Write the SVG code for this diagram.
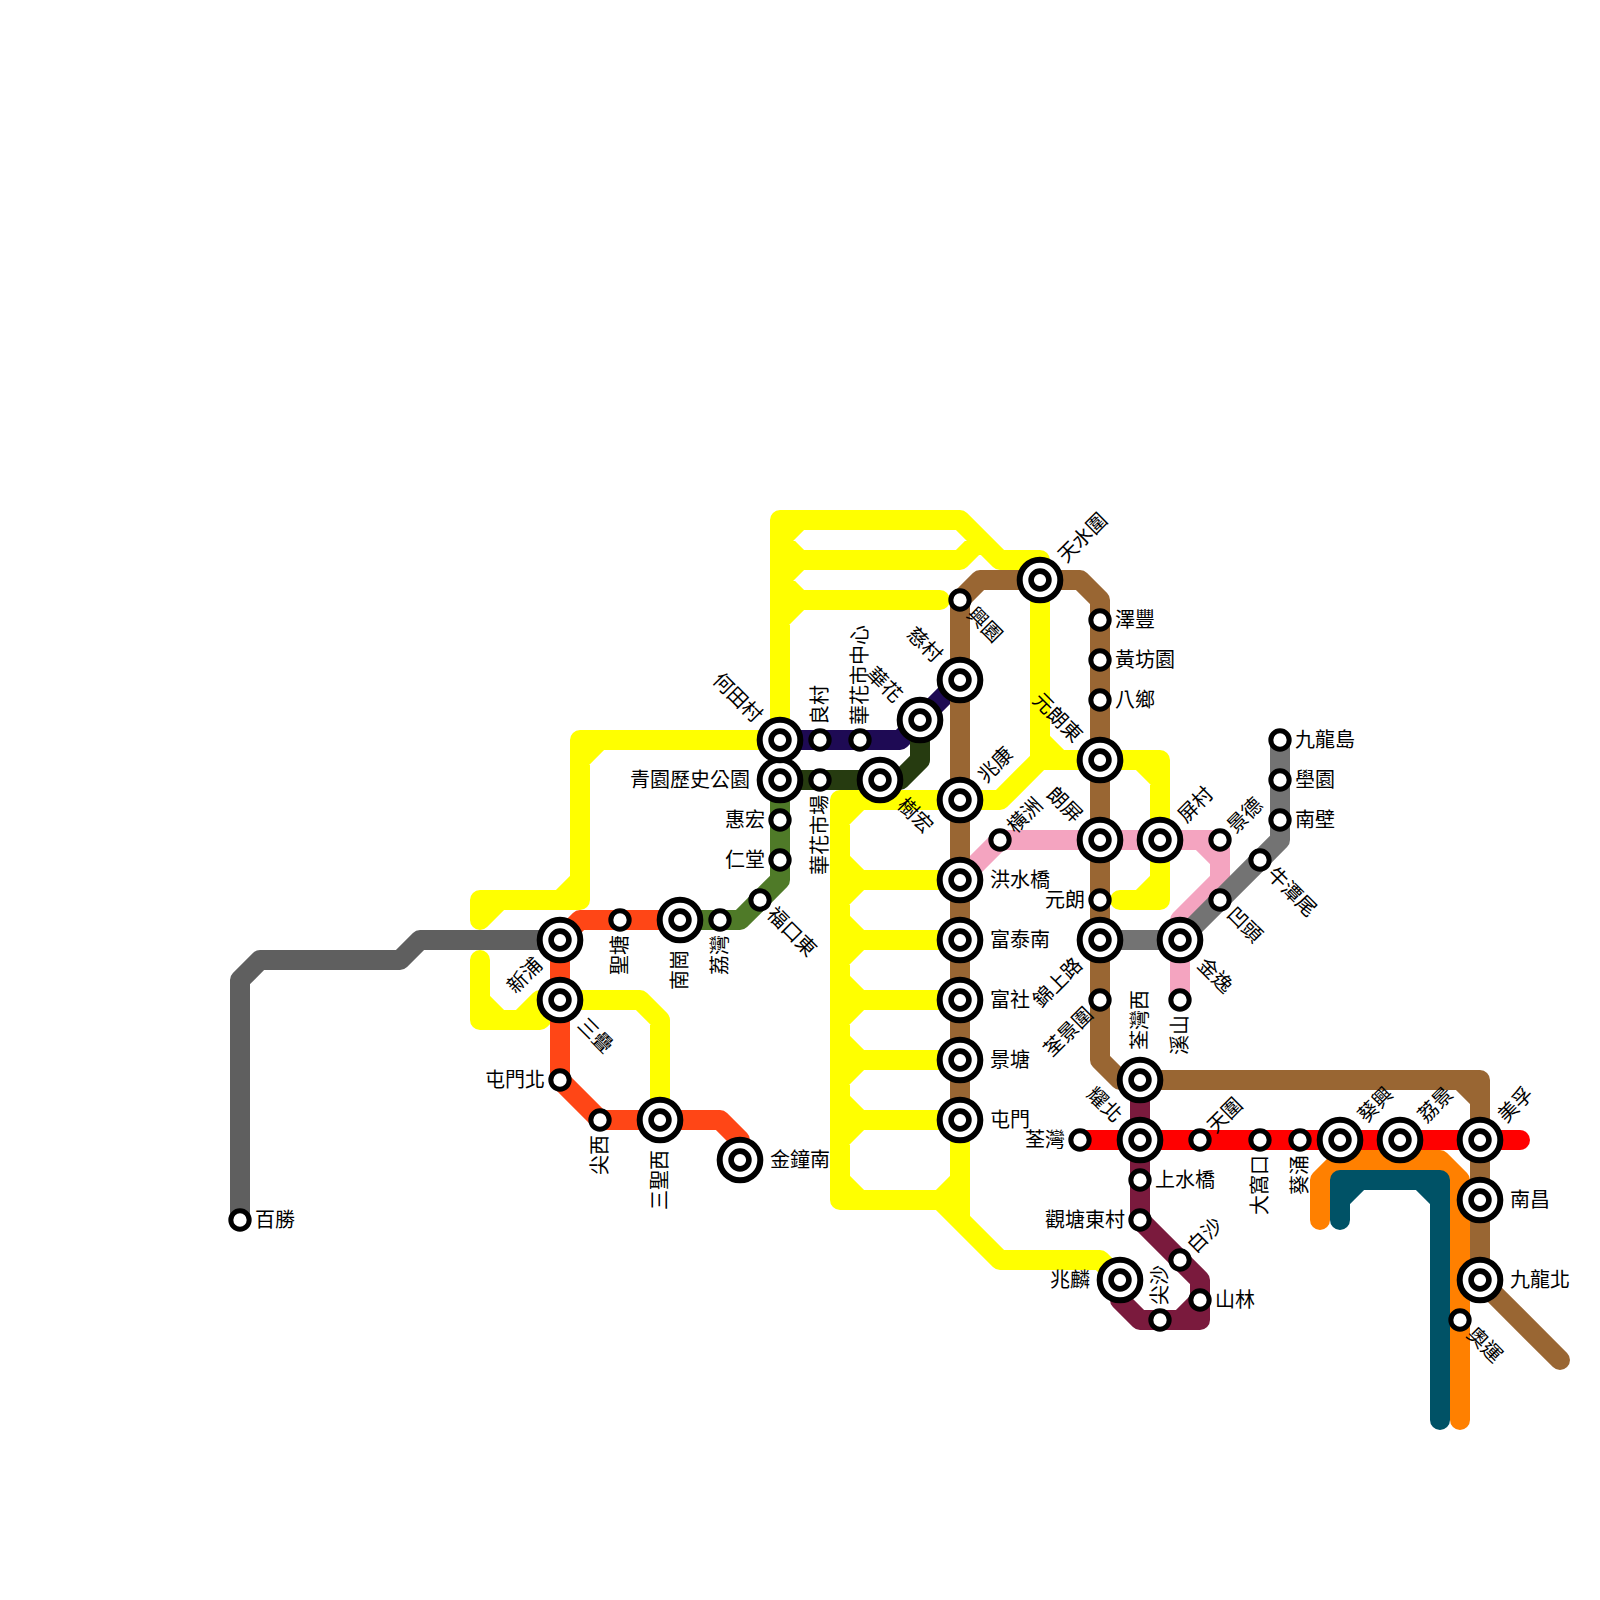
<svg xmlns="http://www.w3.org/2000/svg" width="1600" height="1600" viewBox="0 0 1600 1600">
<style>
.l{fill:none;stroke-width:20;stroke-linecap:round;stroke-linejoin:round}
.o{fill:#fff;stroke:#000;stroke-width:6}
.i{fill:#fff;stroke:#000;stroke-width:5.6}
.s{fill:#fff;stroke:#000;stroke-width:5}
text{font-family:"Noto Sans CJK TC","Noto Sans CJK JP",sans-serif;font-size:20px;fill:#000}
.e{text-anchor:end}
</style>
<defs>
<g id="big"><circle r="20.33" class="o"/><circle r="8.9" class="i"/></g>
<g id="small"><circle r="9.17" class="s"/></g>
</defs>
<g id="connectors">
<path class="l" stroke="#ffff00" d="M1120 900H1160V760H1040V580 M1040 560V580 M1040 560H1000L960 520H780V740 M1160 880L1140 900 M1140 760L1160 780 M1040 740L1060 760 M960 800H1000L1040 760 M800 520L780 540L800 560H960L980 540 M800 560L780 580L800 600H940 M800 600L780 620 M780 740H580V900 M600 740L580 760 M580 880L560 900 M580 900H480V920 M500 900L480 920 M480 960V1020H540 M480 1000L500 1020 M520 1020L540 1000H640L660 1020V1120 M540 1020L560 1000 M960 800H840V1200H940L960 1180V1220L1000 1260H1100L1120 1280 M940 1200L1000 1260 M860 800L840 820 M840 860L860 880H960 M860 880L840 900 M840 920L860 940H960 M860 940L840 960 M840 980L860 1000H960 M860 1000L840 1020 M840 1040L860 1060H960 M860 1060L840 1080 M840 1100L860 1120H960V1200 M860 1120L840 1140 M840 1180L860 1200"/>
<path class="l" stroke="#5f5f5f" d="M240 1220V980L260 960H400L420 940H560"/>
<path class="l" stroke="#ff4616" d="M680 920H580L560 940V1080L600 1120H720L740 1140"/>
<path class="l" stroke="#4f7a28" d="M780 780V880L740 920H680"/>
<path class="l" stroke="#1e0a54" d="M780 740H900L960 680"/>
<path class="l" stroke="#263b10" d="M780 780H900L920 760V720"/>
<path class="l" stroke="#f4a4c0" d="M960 880L1000 840H1220V880L1180 920V1000 M1200 840L1220 860"/>
<path class="l" stroke="#737373" d="M1100 940H1180L1280 840V740"/>
<path class="l" stroke="#7a1a3d" d="M1140 1080V1220L1200 1280V1320H1140L1120 1300V1280 M1200 1300L1180 1320"/>
<path class="l" stroke="#ff8000" d="M1320 1220V1180L1340 1160H1440L1460 1180V1420"/>
<path class="l" stroke="#005266" d="M1340 1220V1180H1440V1420 M1360 1180L1340 1200 M1420 1180L1440 1200"/>
<path class="l" stroke="#ff0000" d="M1080 1140H1520"/>
<path class="l" stroke="#996633" d="M960 1120V600L980 580H1080L1100 600V1060L1120 1080H1480V1280L1560 1360 M1460 1080L1480 1100"/>
</g>
<g id="stations">
<g id="s1" transform="translate(240 1220)"><use href="#small"/><text x="15" y="7">百勝</text></g>
<g id="s2" transform="translate(560 940)"><use href="#big"/><g transform="rotate(-45)"><text x="-30" y="7" class="e">新浦</text></g></g>
<g id="s3" transform="translate(560 1000)"><use href="#big"/><g transform="rotate(45)"><text x="30" y="7">三疊</text></g></g>
<g id="s4" transform="translate(560 1080)"><use href="#small"/><text x="-15" y="7" class="e">屯門北</text></g>
<g id="s5" transform="translate(600 1120)"><use href="#small"/><g transform="rotate(-90)"><text x="-15" y="7" class="e">尖西</text></g></g>
<g id="s6" transform="translate(660 1120)"><use href="#big"/><g transform="rotate(-90)"><text x="-30" y="7" class="e">三聖西</text></g></g>
<g id="s7" transform="translate(740 1160)"><use href="#big"/><text x="30" y="7">金鐘南</text></g>
<g id="s8" transform="translate(620 920)"><use href="#small"/><g transform="rotate(-90)"><text x="-15" y="7" class="e">聖塘</text></g></g>
<g id="s9" transform="translate(680 920)"><use href="#big"/><g transform="rotate(-90)"><text x="-30" y="7" class="e">南崗</text></g></g>
<g id="s10" transform="translate(720 920)"><use href="#small"/><g transform="rotate(-90)"><text x="-15" y="7" class="e">荔灣</text></g></g>
<g id="s11" transform="translate(760 900)"><use href="#small"/><g transform="rotate(45)"><text x="15" y="7">福口東</text></g></g>
<g id="s12" transform="translate(780 860)"><use href="#small"/><text x="-15" y="7" class="e">仁堂</text></g>
<g id="s13" transform="translate(780 820)"><use href="#small"/><text x="-15" y="7" class="e">惠宏</text></g>
<g id="s14" transform="translate(780 780)"><use href="#big"/><text x="-30" y="7" class="e">青園歷史公園</text></g>
<g id="s15" transform="translate(780 740)"><use href="#big"/><g transform="rotate(45)"><text x="-30" y="7" class="e">何田村</text></g></g>
<g id="s16" transform="translate(820 740)"><use href="#small"/><g transform="rotate(-90)"><text x="15" y="7">良村</text></g></g>
<g id="s17" transform="translate(860 740)"><use href="#small"/><g transform="rotate(-90)"><text x="15" y="7">華花市中心</text></g></g>
<g id="s18" transform="translate(920 720)"><use href="#big"/><g transform="rotate(45)"><text x="-30" y="7" class="e">華花</text></g></g>
<g id="s19" transform="translate(820 780)"><use href="#small"/><g transform="rotate(-90)"><text x="-15" y="7" class="e">華花市場</text></g></g>
<g id="s20" transform="translate(880 780)"><use href="#big"/><g transform="rotate(45)"><text x="30" y="7">樹宏</text></g></g>
<g id="s21" transform="translate(960 600)"><use href="#small"/><g transform="rotate(45)"><text x="15" y="7">興園</text></g></g>
<g id="s22" transform="translate(960 680)"><use href="#big"/><g transform="rotate(45)"><text x="-30" y="7" class="e">慈村</text></g></g>
<g id="s23" transform="translate(960 800)"><use href="#big"/><g transform="rotate(-45)"><text x="30" y="7">兆康</text></g></g>
<g id="s24" transform="translate(960 880)"><use href="#big"/><text x="30" y="7">洪水橋</text></g>
<g id="s25" transform="translate(960 940)"><use href="#big"/><text x="30" y="7">富泰南</text></g>
<g id="s26" transform="translate(960 1000)"><use href="#big"/><text x="30" y="7">富社</text></g>
<g id="s27" transform="translate(960 1060)"><use href="#big"/><text x="30" y="7">景塘</text></g>
<g id="s28" transform="translate(960 1120)"><use href="#big"/><text x="30" y="7">屯門</text></g>
<g id="s29" transform="translate(1000 840)"><use href="#small"/><g transform="rotate(-45)"><text x="15" y="7">橫洲</text></g></g>
<g id="s30" transform="translate(1040 580)"><use href="#big"/><g transform="rotate(-45)"><text x="30" y="7">天水圍</text></g></g>
<g id="s31" transform="translate(1100 620)"><use href="#small"/><text x="15" y="7">澤豐</text></g>
<g id="s32" transform="translate(1100 660)"><use href="#small"/><text x="15" y="7">黃坊園</text></g>
<g id="s33" transform="translate(1100 700)"><use href="#small"/><text x="15" y="7">八鄉</text></g>
<g id="s34" transform="translate(1100 760)"><use href="#big"/><g transform="rotate(45)"><text x="-30" y="7" class="e">元朗東</text></g></g>
<g id="s35" transform="translate(1100 840)"><use href="#big"/><g transform="rotate(45)"><text x="-30" y="7" class="e">朗屏</text></g></g>
<g id="s36" transform="translate(1100 900)"><use href="#small"/><text x="-15" y="7" class="e">元朗</text></g>
<g id="s37" transform="translate(1100 940)"><use href="#big"/><g transform="rotate(-45)"><text x="-30" y="7" class="e">錦上路</text></g></g>
<g id="s38" transform="translate(1100 1000)"><use href="#small"/><g transform="rotate(-45)"><text x="-15" y="7" class="e">荃景圍</text></g></g>
<g id="s39" transform="translate(1160 840)"><use href="#big"/><g transform="rotate(-45)"><text x="30" y="7">屏村</text></g></g>
<g id="s40" transform="translate(1220 840)"><use href="#small"/><g transform="rotate(-45)"><text x="15" y="7">景德</text></g></g>
<g id="s41" transform="translate(1220 900)"><use href="#small"/><g transform="rotate(45)"><text x="15" y="7">凹頭</text></g></g>
<g id="s42" transform="translate(1180 940)"><use href="#big"/><g transform="rotate(45)"><text x="30" y="7">金逸</text></g></g>
<g id="s43" transform="translate(1180 1000)"><use href="#small"/><g transform="rotate(-90)"><text x="-15" y="7" class="e">溪山</text></g></g>
<g id="s44" transform="translate(1260 860)"><use href="#small"/><g transform="rotate(45)"><text x="15" y="7">牛潭尾</text></g></g>
<g id="s45" transform="translate(1280 820)"><use href="#small"/><text x="15" y="7">南壁</text></g>
<g id="s46" transform="translate(1280 780)"><use href="#small"/><text x="15" y="7">壆園</text></g>
<g id="s47" transform="translate(1280 740)"><use href="#small"/><text x="15" y="7">九龍島</text></g>
<g id="s48" transform="translate(1140 1080)"><use href="#big"/><g transform="rotate(-90)"><text x="30" y="7">荃灣西</text></g></g>
<g id="s49" transform="translate(1140 1140)"><use href="#big"/><g transform="rotate(45)"><text x="-30" y="7" class="e">耀北</text></g></g>
<g id="s50" transform="translate(1080 1140)"><use href="#small"/><text x="-15" y="7" class="e">荃灣</text></g>
<g id="s51" transform="translate(1200 1140)"><use href="#small"/><g transform="rotate(-45)"><text x="15" y="7">天圍</text></g></g>
<g id="s52" transform="translate(1260 1140)"><use href="#small"/><g transform="rotate(-90)"><text x="-15" y="7" class="e">大窩口</text></g></g>
<g id="s53" transform="translate(1300 1140)"><use href="#small"/><g transform="rotate(-90)"><text x="-15" y="7" class="e">葵涌</text></g></g>
<g id="s54" transform="translate(1340 1140)"><use href="#big"/><g transform="rotate(-45)"><text x="30" y="7">葵興</text></g></g>
<g id="s55" transform="translate(1400 1140)"><use href="#big"/><g transform="rotate(-45)"><text x="30" y="7">荔景</text></g></g>
<g id="s56" transform="translate(1480 1140)"><use href="#big"/><g transform="rotate(-45)"><text x="30" y="7">美孚</text></g></g>
<g id="s57" transform="translate(1480 1200)"><use href="#big"/><text x="30" y="7">南昌</text></g>
<g id="s58" transform="translate(1480 1280)"><use href="#big"/><text x="30" y="7">九龍北</text></g>
<g id="s59" transform="translate(1460 1320)"><use href="#small"/><g transform="rotate(45)"><text x="15" y="7">奧運</text></g></g>
<g id="s60" transform="translate(1140 1180)"><use href="#small"/><text x="15" y="7">上水橋</text></g>
<g id="s61" transform="translate(1140 1220)"><use href="#small"/><text x="-15" y="7" class="e">觀塘東村</text></g>
<g id="s62" transform="translate(1180 1260)"><use href="#small"/><g transform="rotate(-45)"><text x="15" y="7">白沙</text></g></g>
<g id="s63" transform="translate(1200 1300)"><use href="#small"/><text x="15" y="7">山林</text></g>
<g id="s64" transform="translate(1160 1320)"><use href="#small"/><g transform="rotate(-90)"><text x="15" y="7">尖沙</text></g></g>
<g id="s65" transform="translate(1120 1280)"><use href="#big"/><text x="-30" y="7" class="e">兆麟</text></g>
</g>
</svg>
